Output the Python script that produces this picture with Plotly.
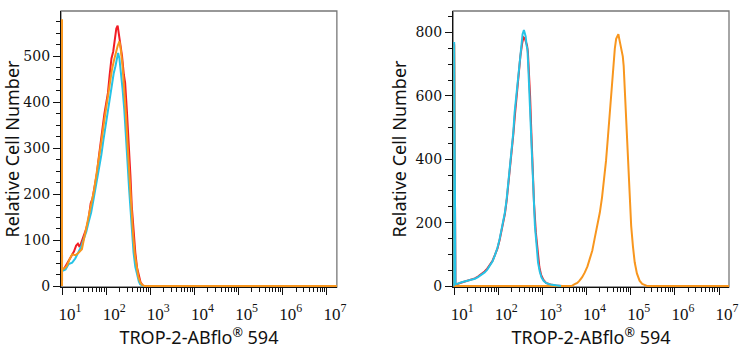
import numpy as np
import plotly.graph_objects as go

# ---------------- data (x given as log10 of fluorescence intensity) ----------------
# Left panel
L_red_log = [1.0, 1.0, 1.0, 1.05, 1.12, 1.20, 1.27, 1.32, 1.36, 1.40, 1.45, 1.50, 1.55, 1.60, 1.65, 1.69,
             1.74, 1.79, 1.84, 1.88, 1.92, 1.96, 2.00, 2.04, 2.08, 2.12, 2.16, 2.20, 2.23, 2.26, 2.29,
             2.32, 2.36, 2.40, 2.43, 2.47, 2.51, 2.55, 2.58, 2.62, 2.66, 2.70, 2.74, 2.78, 2.84, 7.25]
L_red_val = [0, 575, 37, 38, 50, 62, 75, 88, 92, 85, 98, 110, 125, 145, 180, 190,
             215, 245, 285, 320, 345, 375, 400, 420, 460, 495, 510, 535, 560, 566, 545,
             530, 500, 460, 442, 380, 319, 240, 174, 115, 73, 40, 22, 8, 0, 0]

L_cyan_log = [1.0, 1.0, 1.0, 1.04, 1.08, 1.15, 1.23, 1.30, 1.376, 1.43, 1.49, 1.55, 1.60, 1.66, 1.715,
              1.77, 1.83, 1.89, 1.94, 2.00, 2.05, 2.09, 2.13, 2.17, 2.21, 2.24, 2.27, 2.30, 2.33, 2.37,
              2.41, 2.45, 2.48, 2.52, 2.56, 2.59, 2.62, 2.66, 2.70, 2.74, 2.77, 2.84, 7.25]
L_cyan_val = [0, 575, 37, 34, 36, 48, 51, 60, 73, 85, 102, 118, 138, 160, 189,
              218, 247, 285, 319, 355, 384, 418, 438, 462, 478, 495, 507, 495, 471, 430,
              384, 330, 275, 210, 152, 110, 73, 42, 22, 10, 4, 0, 0]

L_orange_log = [1.0, 1.0, 1.0, 1.05, 1.11, 1.17, 1.23, 1.30, 1.37, 1.45, 1.50, 1.55, 1.60, 1.66, 1.72,
                1.78, 1.84, 1.90, 1.96, 2.02, 2.08, 2.13, 2.18, 2.22, 2.26, 2.30, 2.33, 2.37, 2.41,
                2.45, 2.49, 2.53, 2.57, 2.61, 2.65, 2.69, 2.73, 2.77, 2.81, 2.87, 7.25]
L_orange_val = [0, 580, 37, 38, 44, 58, 69, 67, 72, 80, 105, 125, 148, 178, 205,
                240, 275, 320, 362, 400, 440, 470, 492, 510, 522, 532, 515, 480, 430,
                370, 300, 235, 170, 112, 68, 38, 20, 9, 3, 0, 0]

# Right panel
R_red_log = [1.0, 1.0, 1.03, 1.05, 1.17, 1.28, 1.39, 1.47, 1.54, 1.62, 1.69, 1.75, 1.81, 1.87, 1.92,
             1.98, 2.03, 2.09, 2.15, 2.19, 2.22, 2.26, 2.30, 2.34, 2.38, 2.42, 2.46, 2.50, 2.54, 2.57,
             2.60, 2.63, 2.65, 2.67, 2.69, 2.72, 2.75, 2.78, 2.81, 2.85, 2.89, 2.93, 2.97, 3.02, 3.08,
             3.18, 3.30, 3.45]
R_red_val = [0, 765, 8, 5, 11, 15, 19, 24, 30, 38, 46, 55, 66, 80, 97,
             118, 145, 185, 228, 270, 310, 360, 415, 478, 545, 610, 670, 725, 765, 785,
             782, 770, 760, 740, 690, 600, 480, 360, 260, 170, 105, 60, 35, 20, 10,
             5, 2, 0]

R_orange_log = [1.0, 1.0, 1.02, 3.66, 3.73, 3.79, 3.84, 3.90, 3.96, 4.02, 4.07, 4.13, 4.18, 4.24, 4.30,
                4.35, 4.39, 4.44, 4.48, 4.52, 4.56, 4.60, 4.64, 4.67, 4.70, 4.72, 4.74, 4.77, 4.80,
                4.82, 4.84, 4.87, 4.90, 4.93, 4.95, 4.98, 5.01, 5.05, 5.09, 5.14, 5.20, 5.26, 5.31,
                5.38, 7.25]
R_orange_val = [0, 760, 0, 0, 6, 10, 17, 28, 43, 62, 85, 112, 148, 188, 232,
                280, 327, 395, 464, 540, 611, 690, 750, 780, 792, 795, 780, 760, 748,
                725, 695, 600, 537, 440, 359, 270, 190, 125, 75, 40, 17, 7, 3,
                0, 0]

R_cyan_log = [1.0, 1.0, 1.03, 1.05, 1.17, 1.28, 1.39, 1.47, 1.54, 1.62, 1.69, 1.75, 1.81, 1.87, 1.92,
              1.98, 2.03, 2.09, 2.15, 2.19, 2.22, 2.26, 2.30, 2.34, 2.37, 2.41, 2.45, 2.49, 2.52, 2.55,
              2.58, 2.60, 2.62, 2.64, 2.66, 2.68, 2.71, 2.73, 2.76, 2.79, 2.83, 2.87, 2.90, 2.94, 2.98,
              3.03, 3.09, 3.18, 3.28, 3.42]
R_cyan_val = [0, 770, 8, 6, 12, 16, 20, 23, 28, 35, 43, 52, 64, 78, 96,
              120, 148, 188, 232, 275, 316, 365, 422, 485, 548, 605, 663, 720, 769, 795,
              808, 800, 788, 760, 748, 690, 590, 510, 380, 290, 190, 125, 75, 45, 27,
              16, 9, 5, 3, 0]

tick_vals = [1e1, 1e2, 1e3, 1e4, 1e5, 1e6, 1e7]
tick_text = ["10<sup>1</sup>", "10<sup>2</sup>", "10<sup>3</sup>", "10<sup>4</sup>",
             "10<sup>5</sup>", "10<sup>6</sup>", "10<sup>7</sup>"]
x_title = "TROP-2-ABflo<sup>®</sup> 594"
y_title = "Relative Cell Number"

RED = "#f21c24"
ORANGE = "#f8961e"
CYAN = "#26c3e6"

fig = go.Figure()

def add(xlog, vals, color, xa, ya):
    fig.add_trace(go.Scatter(x=10 ** np.array(xlog), y=vals, mode="lines",
                             line=dict(color=color, width=2), xaxis=xa, yaxis=ya,
                             showlegend=False, hoverinfo="skip"))

add(L_red_log, L_red_val, RED, "x", "y")
add(L_cyan_log, L_cyan_val, CYAN, "x", "y")
add(L_orange_log, L_orange_val, ORANGE, "x", "y")
add(R_red_log, R_red_val, RED, "x2", "y2")
add(R_orange_log, R_orange_val, ORANGE, "x2", "y2")
add(R_cyan_log, R_cyan_val, CYAN, "x2", "y2")

W, H = 749, 350
ML, MR, MT, MB = 60.7, 19.5, 11, 63
PW = W - ML - MR
left_dom = [0, (336.9 - ML) / PW]
right_dom = [(453.3 - ML) / PW, 1]

serif = "DejaVu Serif"
sans = "Noto Sans"

def xaxis_cfg(dom, anchor):
    return dict(domain=dom, anchor=anchor, type="log", range=[0.977, 7.226],
                automargin=False,
                tickvals=tick_vals, ticktext=tick_text, ticks="outside", ticklen=7,
                tickwidth=1.3, tickcolor="#111", showline=True, linecolor="#111",
                linewidth=1.3, showgrid=False, zeroline=False, ticklabelshift=8,
                ticklabelstandoff=4,
                tickfont=dict(family="Liberation Serif", size=17, color="#111"),
                minor=dict(ticks="outside", ticklen=4, tickwidth=1, tickcolor="#111",
                           dtick="D1", showgrid=False),
                title=dict(text=x_title, font=dict(family=sans, size=18, color="#111"),
                           standoff=4))

def yaxis_cfg(anchor, rng, dtick, mdt):
    return dict(domain=[0, 1], anchor=anchor, range=rng, dtick=dtick, tick0=0,
                automargin=False,
                ticks="outside", ticklen=7, tickwidth=1.3, tickcolor="#111",
                showline=True, linecolor="#111", linewidth=1.3, showgrid=False,
                zeroline=False,
                tickfont=dict(family=serif, size=14, color="#111"),
                minor=dict(ticks="outside", ticklen=4, tickwidth=1, tickcolor="#111",
                           dtick=mdt, tick0=0, showgrid=False),
                title=dict(text=y_title, font=dict(family=sans, size=18, color="#111"),
                           standoff=4))

fig.update_layout(
    width=W, height=H, margin=dict(l=ML, r=MR, t=MT, b=MB),
    paper_bgcolor="white", plot_bgcolor="white",
    xaxis=xaxis_cfg(left_dom, "y"),
    yaxis=yaxis_cfg("x", [-2, 598], 100, 25),
    xaxis2=xaxis_cfg(right_dom, "y2"),
    yaxis2=yaxis_cfg("x2", [-3, 868], 200, 50),
)

for xr, yr in (("x domain", "y domain"), ("x2 domain", "y2 domain")):
    fig.add_shape(type="rect", xref=xr, yref=yr, x0=0, x1=1, y0=0, y1=1,
                  line=dict(color="#777", width=1.3), layer="below")

fig.write_html("out.html")
